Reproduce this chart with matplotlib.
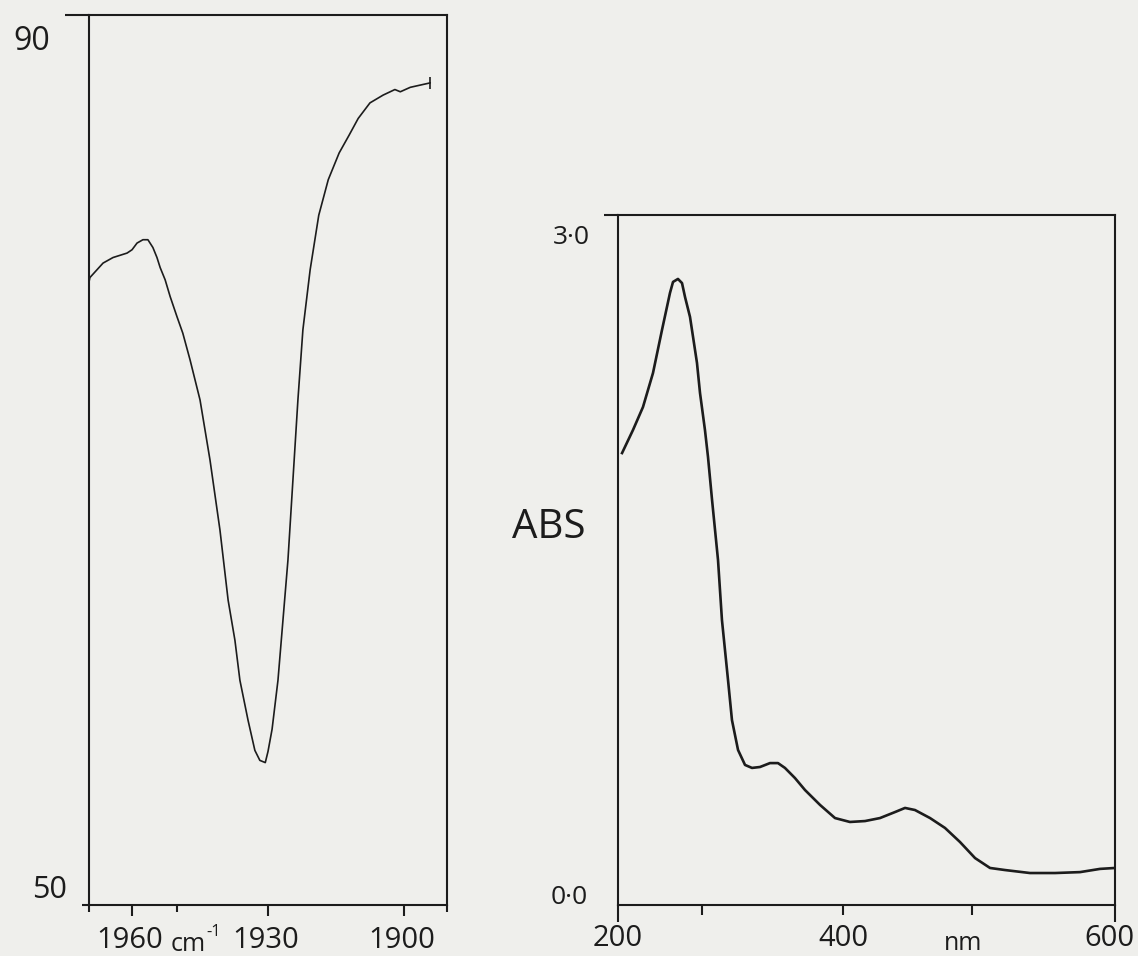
import numpy as np
import matplotlib
matplotlib.use("Agg")
import matplotlib.pyplot as plt
from matplotlib.transforms import ScaledTranslation
from matplotlib.ticker import FixedLocator, FixedFormatter

plt.rcParams['font.family'] = ['Open Sans', 'DejaVu Sans']

# ---- IR spectrum (carbonyl region), % transmittance ----
ir_wavenumber = [1969.5, 1969.3, 1966.4, 1964.2, 1961.1, 1960.0, 1958.9, 1957.6,
                 1956.5, 1955.4, 1954.5, 1953.8, 1952.7, 1951.6, 1950.1, 1948.8,
                 1947.2, 1945.0, 1942.8, 1940.6, 1938.8, 1937.3, 1936.2, 1934.4,
                 1932.9, 1931.8, 1930.6, 1930.0, 1929.1, 1927.8, 1926.7, 1925.6,
                 1924.5, 1923.4, 1922.3, 1920.7, 1918.8, 1916.7, 1914.3, 1912.1,
                 1910.1, 1907.5, 1904.6, 1902.0, 1900.8, 1898.6, 1896.4, 1894.2]
ir_transmittance = [78.0, 78.2, 78.85, 79.1, 79.3, 79.45, 79.75, 79.9,
                    79.9, 79.55, 79.1, 78.65, 78.1, 77.35, 76.45, 75.7,
                    74.5, 72.7, 70.0, 66.85, 63.7, 61.9, 60.1, 58.3,
                    56.95, 56.5, 56.4, 56.9, 57.9, 60.1, 62.8, 65.5,
                    69.1, 72.7, 75.85, 78.55, 81.0, 82.6, 83.8, 84.6,
                    85.35, 86.05, 86.4, 86.65, 86.55, 86.75, 86.85, 86.95]

ir_xlim = (1969.5, 1890.5)
ir_ylim = (50, 90)
ir_ticks = [1960, 1930, 1900]
ir_minor_ticks = [1969.5, 1950, 1890.5]

# ---- UV-visible spectrum, absorbance ----
uv_wavelength = [203.6, 213.3, 222.2, 231.1, 239.1, 246.2, 248.9, 253.3, 256.9,
                 259.6, 264.0, 266.7, 270.2, 272.9, 277.3, 280.0, 283.6, 288.9,
                 292.4, 297.8, 301.3, 306.7, 312.9, 319.1, 326.2, 335.1, 342.2,
                 348.4, 357.3, 366.2, 379.6, 392.9, 405.1, 416.2, 427.2, 438.2,
                 445.6, 452.9, 464.0, 475.0, 486.0, 497.1, 508.1, 519.1, 537.5,
                 555.9, 574.3, 589.0, 600.0]
uv_absorbance = [1.965, 2.065, 2.165, 2.313, 2.50, 2.661, 2.709, 2.722, 2.704,
                 2.643, 2.557, 2.470, 2.357, 2.226, 2.065, 1.948, 1.761, 1.50,
                 1.239, 0.978, 0.804, 0.674, 0.609, 0.596, 0.600, 0.617, 0.617,
                 0.596, 0.552, 0.50, 0.435, 0.378, 0.361, 0.365, 0.378, 0.404,
                 0.422, 0.413, 0.378, 0.335, 0.274, 0.204, 0.161, 0.152, 0.139,
                 0.139, 0.143, 0.157, 0.161]

uv_xlim = (200, 600)
uv_ylim = (0.0, 3.0)
uv_edge_ticks = [200, 600]
uv_inner_ticks = [275, 400, 495]


def nm_forward(x):
    x = np.asarray(x, dtype=float)
    return np.where(x <= 400, (x - 200) * 1.125, 225 + (x - 400) * 1.36)


def nm_inverse(y):
    y = np.asarray(y, dtype=float)
    return np.where(y <= 225, 200 + y / 1.125, 400 + (y - 225) / 1.36)


W, H = 1138, 956
fig = plt.figure(figsize=(W / 100, H / 100), dpi=100)
paper = '#efefec'
ink = '#1c1c1c'
fig.patch.set_facecolor(paper)


def px_axes(x0, y0, x1, y1):
    return fig.add_axes([x0 / W, 1 - y1 / H, (x1 - x0) / W, (y1 - y0) / H])


def shift(label, dx_px, dy_px):
    label.set_transform(label.get_transform() +
                        ScaledTranslation(dx_px / 100, dy_px / 100, fig.dpi_scale_trans))


# ---------------- left panel: IR ----------------
ax1 = px_axes(89, 15, 447, 905)
ax1.set_facecolor(paper)
ax1.plot(ir_wavenumber, ir_transmittance, color=ink, lw=1.2, solid_capstyle='round')
ax1.plot([ir_wavenumber[-1]], [ir_transmittance[-1]], marker='|', ms=9, mew=1.2, color=ink)
ax1.set_xlim(*ir_xlim)
ax1.set_ylim(*ir_ylim)
for s in ax1.spines.values():
    s.set_linewidth(1.5)
    s.set_color(ink)

ax1.set_xticks(ir_ticks)
ax1.set_xticklabels([str(t) for t in ir_ticks])
ax1.xaxis.set_minor_locator(FixedLocator(ir_minor_ticks))
ax1.tick_params(axis='x', which='major', direction='out', length=8, width=1.5,
                color=ink, pad=7, labelsize=21, labelcolor=ink)
ax1.tick_params(axis='x', which='minor', direction='out', length=5, width=1.5, color=ink)

ax1.yaxis.set_major_locator(FixedLocator([90]))
ax1.yaxis.set_major_formatter(FixedFormatter(['90']))
ax1.yaxis.set_minor_locator(FixedLocator([50]))
ax1.yaxis.set_minor_formatter(FixedFormatter(['50']))
ax1.tick_params(axis='y', which='major', direction='out', length=17, width=1.5,
                color=ink, pad=11, labelsize=23, labelcolor=ink)
ax1.tick_params(axis='y', which='minor', direction='out', length=5, width=1.5,
                color=ink, pad=11, labelsize=22, labelcolor=ink)
for lab in ax1.get_yticklabels():
    shift(lab, 0, -23)
for lab in ax1.get_yticklabels(minor=True):
    shift(lab, 0, 18)
for lab in ax1.get_xticklabels():
    shift(lab, -2, 0)

fig.text(171 / W, 1 - 951 / H, 'cm', fontsize=18, color=ink, ha='left', va='baseline')
fig.text(206 / W, 1 - 936 / H, '-1', fontsize=12, color=ink, ha='left', va='baseline')

# ---------------- right panel: UV-vis ----------------
ax2 = px_axes(618, 215, 1115, 905)
ax2.set_facecolor(paper)
ax2.set_xscale('function', functions=(nm_forward, nm_inverse))
ax2.plot(uv_wavelength, uv_absorbance, color=ink, lw=1.9, solid_joinstyle='round')
ax2.set_xlim(*uv_xlim)
ax2.set_ylim(*uv_ylim)
for s in ax2.spines.values():
    s.set_linewidth(1.5)
    s.set_color(ink)

ax2.xaxis.set_major_locator(FixedLocator(uv_edge_ticks))
ax2.xaxis.set_major_formatter(FixedFormatter([str(t) for t in uv_edge_ticks]))
ax2.xaxis.set_minor_locator(FixedLocator(uv_inner_ticks))
ax2.xaxis.set_minor_formatter(FixedFormatter(['' if t != 400 else '400' for t in uv_inner_ticks]))
ax2.tick_params(axis='x', which='major', direction='out', length=12, width=1.5,
                color=ink, pad=2, labelsize=21, labelcolor=ink)
ax2.tick_params(axis='x', which='minor', direction='out', length=7, width=1.5,
                color=ink, pad=7, labelsize=21, labelcolor=ink)
for lab in ax2.get_xticklabels():
    if lab.get_text() == '600':
        shift(lab, -6, 0)

ax2.yaxis.set_major_locator(FixedLocator([3.0]))
ax2.yaxis.set_major_formatter(FixedFormatter(['3\u00b70']))
ax2.yaxis.set_minor_locator(FixedLocator([0.0]))
ax2.yaxis.set_minor_formatter(FixedFormatter(['0\u00b70']))
ax2.tick_params(axis='y', which='major', direction='out', length=10, width=1.5,
                color=ink, pad=10, labelsize=19, labelcolor=ink)
ax2.tick_params(axis='y', which='minor', direction='out', length=0, width=1.5,
                color=ink, pad=22, labelsize=19, labelcolor=ink)
for lab in ax2.get_yticklabels():
    shift(lab, 0, -20)
for lab in ax2.get_yticklabels(minor=True):
    shift(lab, 0, 10)

fig.text(963 / W, 1 - 944 / H, 'nm', fontsize=18, color=ink, ha='center', va='center')
fig.text(549 / W, 1 - 528 / H, 'ABS', fontsize=29, color=ink, ha='center', va='center')

fig.savefig('out.png', dpi=100, facecolor=paper)
